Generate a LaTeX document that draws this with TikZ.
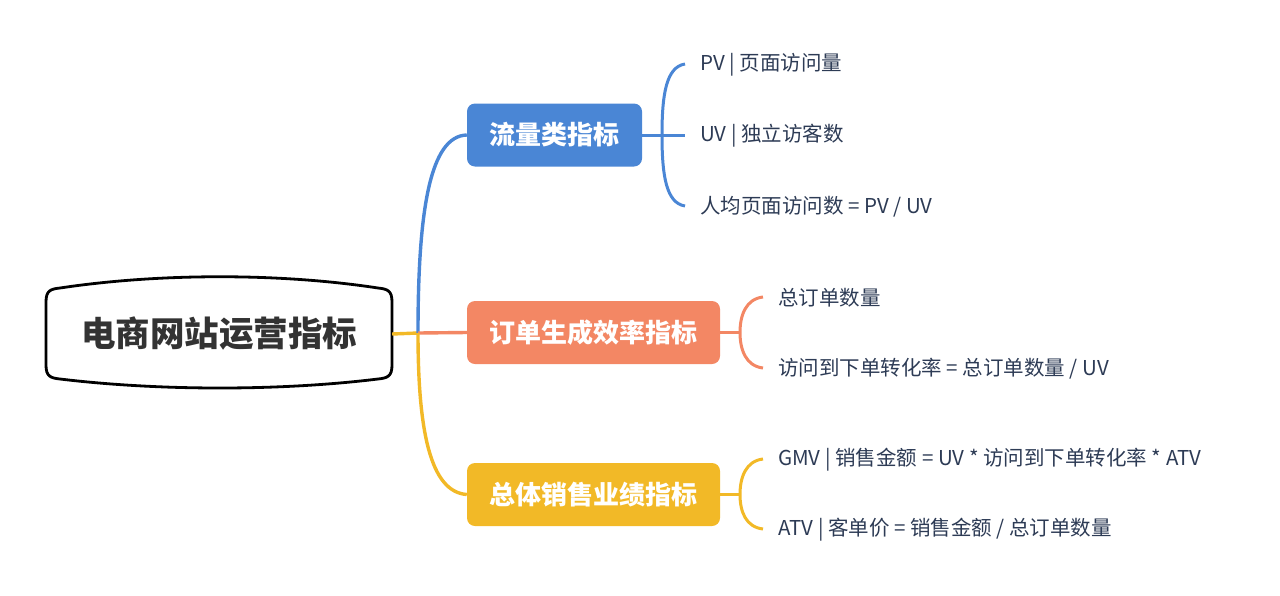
\documentclass[tikz,border=0pt]{standalone}
\usepackage{fontspec}
\setmainfont{Noto Sans CJK SC}
\definecolor{cblue}{HTML}{4A86D5}
\definecolor{corange}{HTML}{F38764}
\definecolor{cyellow}{HTML}{F2B927}
\definecolor{leaftext}{HTML}{2D3B55}
\definecolor{roottext}{HTML}{333333}
\begin{document}
\begin{tikzpicture}[x=1pt,y=-1pt,
  rootnode/.style={minimum width=346pt,minimum height=90pt,inner sep=0pt,
    text=roottext,font=\fontsize{34.5}{38}\selectfont\bfseries},
  branch/.style={rounded corners=8pt,inner sep=0pt,minimum height=63pt,
    text=white,font=\fontsize{26}{29}\selectfont\bfseries},
  leaf/.style={anchor=west,inner sep=0pt,text=leaftext,
    font=\fontsize{20.5}{24}\selectfont},
  link/.style={line width=3.4pt},
  brace/.style={line width=3pt}]
\useasboundingbox (0,0) rectangle (1280,595);

% central topic with its bulging outline
\node[rootnode] (root) at (219,334) {电商网站运营指标};
\draw[line width=2.8pt,black]
  (46,302) -- (46,365)
  .. controls (46,376) and (50,378) .. (60,379)
  .. controls (160,391) and (280,391) .. (378,379)
  .. controls (388,378) and (392,376) .. (392,365)
  -- (392,302)
  .. controls (392,291) and (388,289) .. (378,288)
  .. controls (280,273) and (160,273) .. (60,288)
  .. controls (50,289) and (46,291) .. (46,302) -- cycle;

% main branches
\node[branch,fill=cblue,minimum width=175pt] (b1) at (554.5,135) {流量类指标};
\node[branch,fill=corange,minimum width=253pt] (b2) at (593.5,332.5) {订单生成效率指标};
\node[branch,fill=cyellow,minimum width=253pt] (b3) at (593.5,494.5) {总体销售业绩指标};

\coordinate (trunk) at (418,333);
\draw[link,cyellow] (root.east) -- (trunk);
\draw[link,cblue] (trunk) .. controls (418,210) and (430,136) .. (b1.west);
\draw[link,corange] (trunk) -- (b2.west);
\draw[link,cyellow] (trunk) .. controls (418,430) and (430,492) .. (b3.west);

% leaves of the traffic branch
\node[leaf] (l11) at (700,65) {PV | 页面访问量};
\node[leaf] (l12) at (700,136) {UV | 独立访客数};
\node[leaf] (l13) at (700,207) {人均页面访问数 = PV / UV};
\coordinate (j1) at (662,135);
\draw[brace,cblue] (b1.east) -- ([shift={(-15,-1)}]l12.west);
\draw[brace,cblue] ([shift={(-15,-1)}]l11.west) .. controls (666,67) and (662,95) .. (j1)
  .. controls (662,175) and (666,203) .. ([shift={(-15,-1)}]l13.west);

% leaves of the order branch
\node[leaf] (l21) at (778,298) {总订单数量};
\node[leaf] (l22) at (778,369) {访问到下单转化率 = 总订单数量 / UV};
\coordinate (j2) at (740,332.5);
\draw[brace,corange] (b2.east) -- (j2);
\draw[brace,corange] ([shift={(-15,-1)}]l21.west) .. controls (746,299) and (740,315) .. (j2)
  .. controls (740,350) and (746,366) .. ([shift={(-15,-1)}]l22.west);

% leaves of the sales branch
\node[leaf] (l31) at (778,460) {GMV | 销售金额 = UV * 访问到下单转化率 * ATV};
\node[leaf] (l32) at (778,530) {ATV | 客单价 = 销售金额 / 总订单数量};
\coordinate (j3) at (740,494.5);
\draw[brace,cyellow] (b3.east) -- (j3);
\draw[brace,cyellow] ([shift={(-15,-1)}]l31.west) .. controls (746,461) and (740,477) .. (j3)
  .. controls (740,512) and (746,527) .. ([shift={(-15,-1)}]l32.west);
\end{tikzpicture}
\end{document}
